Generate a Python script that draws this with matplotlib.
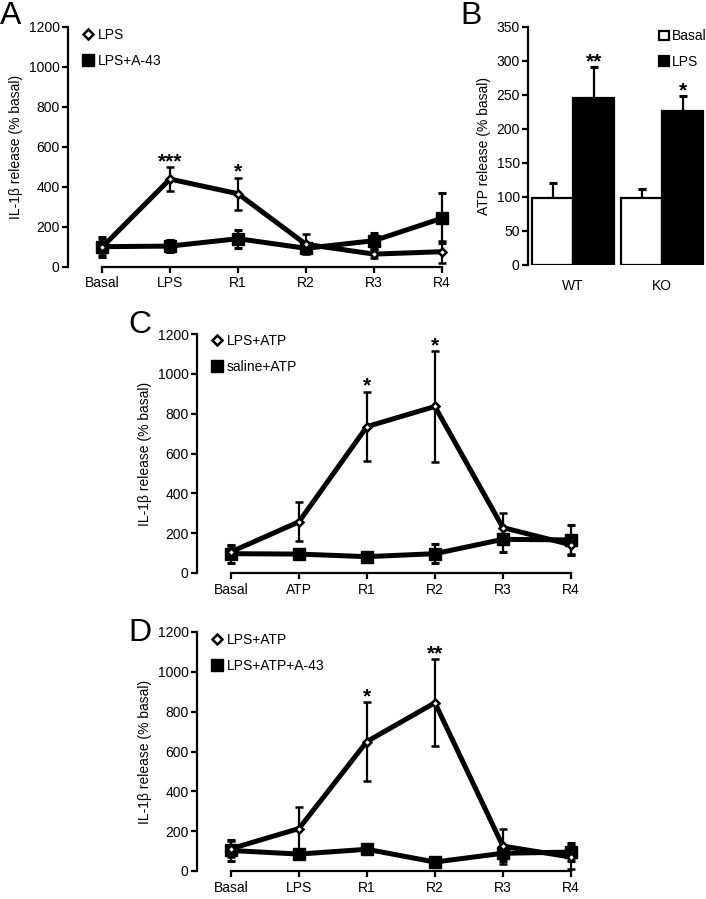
import matplotlib

matplotlib.use('Agg')
import matplotlib.pyplot as plt
from matplotlib.lines import Line2D
from matplotlib.patches import Patch

plt.rcParams['font.family'] = ['Liberation Sans', 'DejaVu Sans']
plt.rcParams['font.size'] = 10

# --- data ---
labels_a = ["Basal", "LPS", "R1", "R2", "R3", "R4"]
lps_a = [97, 438, 365, 112, 63, 75]
lps_a_err = [40, 60, 80, 50, 20, 55]
a43_a = [100, 103, 140, 92, 130, 242]
a43_a_err = [50, 30, 45, 25, 40, 125]
stars_a = ["", "***", "*", "", "", ""]

groups_b = ["WT", "KO"]
basal_b = [98, 98]
basal_b_err = [22, 14]
lps_b = [246, 227]
lps_b_err = [45, 21]
stars_b = ["**", "*"]

labels_c = ["Basal", "ATP", "R1", "R2", "R3", "R4"]
lpsatp_c = [106, 257, 735, 836, 228, 142]
lpsatp_c_err = [30, 97, 175, 278, 74, 45]
saline_c = [97, 95, 82, 97, 169, 166]
saline_c_err = [45, 15, 10, 48, 62, 75]
stars_c = ["", "", "*", "*", "", ""]

labels_d = ["Basal", "LPS", "R1", "R2", "R3", "R4"]
lpsatp_d = [112, 213, 650, 845, 125, 70]
lpsatp_d_err = [40, 108, 198, 218, 88, 60]
a43_d = [103, 85, 109, 45, 89, 95]
a43_d_err = [52, 20, 15, 15, 40, 45]
stars_d = ["", "", "*", "**", "", ""]

W, H = 706, 899
fig = plt.figure(figsize=(W / 100, H / 100), dpi=100)


def px_axes(left, top, right, bottom):
    return fig.add_axes([left / W, 1 - bottom / H, (right - left) / W, (bottom - top) / H])


def style_axes(ax):
    for s in ["top", "right"]:
        ax.spines[s].set_visible(False)
    for s in ["left", "bottom"]:
        ax.spines[s].set_linewidth(1.6)
    ax.tick_params(direction="out", length=4, width=1.6, labelsize=10)
    ax.tick_params(axis="y", pad=2)
    ax.tick_params(axis="x", pad=3)


def line_panel(ax, labels, open_vals, open_err, fill_vals, fill_err, stars, names, legend_y):
    x = list(range(len(labels)))
    ax.errorbar(x, fill_vals, yerr=fill_err, color="black", lw=3.6, marker="s", ms=8,
                mfc="black", mec="black", elinewidth=1.6, capsize=3, capthick=2.2,
                clip_on=False, zorder=3)
    ax.errorbar(x, open_vals, yerr=open_err, color="black", lw=3.6, marker="D", ms=4.2,
                mfc="white", mec="black", mew=1.8, elinewidth=1.6, capsize=3, capthick=2.2,
                clip_on=False, zorder=4)
    for xi, v, e, s in zip(x, open_vals, open_err, stars):
        if s:
            ax.annotate(s, (xi, v + e), xytext=(0, 0), textcoords="offset points",
                        ha="center", va="baseline", fontsize=15, fontweight="bold")
    ax.set_xlim(-0.5, 5.15)
    ax.set_ylim(0, 1200)
    ax.set_yticks(range(0, 1201, 200))
    ax.set_xticks(x)
    ax.set_xticklabels(labels)
    ax.spines["bottom"].set_bounds(0, len(labels) - 1)
    ax.set_ylabel("IL-1\u03b2 release (% basal)", fontsize=10, labelpad=4)
    style_axes(ax)
    handles = [
        Line2D([], [], ls="none", marker="D", ms=5, mfc="white", mec="black", mew=1.8),
        Line2D([], [], ls="none", marker="s", ms=8, mfc="black", mec="black"),
    ]
    ax.legend(handles, names, loc="upper left", bbox_to_anchor=(0.038, legend_y),
              frameon=False, handlelength=0.8, handletextpad=0.3, labelspacing=0.85,
              borderaxespad=0, borderpad=0, fontsize=10)


# A
ax_a = px_axes(68, 26.7, 452, 266.7)
line_panel(ax_a, labels_a, lps_a, lps_a_err, a43_a, a43_a_err, stars_a,
           ["LPS", "LPS+A-43"], 0.995)
fig.text(0 / W, 1 - 1 / H, "A", fontsize=23, ha="left", va="top")

# B
ax_b = px_axes(528, 27, 705, 265)
xb = list(range(len(groups_b)))
bw = 0.46
xb_basal = [v - bw / 2 for v in xb]
xb_lps = [v + bw / 2 for v in xb]
ax_b.bar(xb_basal, basal_b, width=bw, color="white", edgecolor="black", lw=1.6, zorder=2)
ax_b.bar(xb_lps, lps_b, width=bw, color="black", edgecolor="black", lw=1.6, zorder=2)
ax_b.errorbar(xb_basal, basal_b, yerr=[[0, 0], basal_b_err], fmt="none", ecolor="black",
              elinewidth=1.6, capsize=3, capthick=2.2, zorder=1)
ax_b.errorbar(xb_lps, lps_b, yerr=[[0, 0], lps_b_err], fmt="none", ecolor="black",
              elinewidth=1.6, capsize=3, capthick=2.2, zorder=1)
for xi, v, e, s in zip(xb_lps, lps_b, lps_b_err, stars_b):
    ax_b.annotate(s, (xi, v + e), xytext=(0, 0), textcoords="offset points",
                  ha="center", va="baseline", fontsize=15, fontweight="bold")
ax_b.set_xlim(-0.505, 1.48)
ax_b.set_ylim(0, 350)
ax_b.set_yticks(range(0, 351, 50))
ax_b.set_xticks(xb)
ax_b.set_xticklabels(groups_b)
style_axes(ax_b)
ax_b.spines["bottom"].set_visible(False)
ax_b.tick_params(axis="x", length=0, pad=10)
ax_b.set_ylabel("ATP release (% basal)", fontsize=10, labelpad=4)
ax_b.legend([Patch(facecolor="white", edgecolor="black", lw=1.6),
             Patch(facecolor="black", edgecolor="black", lw=1.6)], ["Basal", "LPS"],
            loc="upper left", bbox_to_anchor=(0.74, 0.99), frameon=False,
            handlelength=0.7, handleheight=0.7, handletextpad=0.2, labelspacing=0.85,
            borderaxespad=0, borderpad=0, fontsize=10)
fig.text(460 / W, 1 - 1 / H, "B", fontsize=23, ha="left", va="top")

# C
ax_c = px_axes(197, 334, 581, 573)
line_panel(ax_c, labels_c, lpsatp_c, lpsatp_c_err, saline_c, saline_c_err, stars_c,
           ["LPS+ATP", "saline+ATP"], 1.0)
fig.text(128 / W, 1 - 310 / H, "C", fontsize=23, ha="left", va="top")

# D
ax_d = px_axes(197, 632, 581, 871)
line_panel(ax_d, labels_d, lpsatp_d, lpsatp_d_err, a43_d, a43_d_err, stars_d,
           ["LPS+ATP", "LPS+ATP+A-43"], 0.996)
fig.text(128 / W, 1 - 618 / H, "D", fontsize=23, ha="left", va="top")

fig.savefig("out.png", dpi=100)
plt.close(fig)
